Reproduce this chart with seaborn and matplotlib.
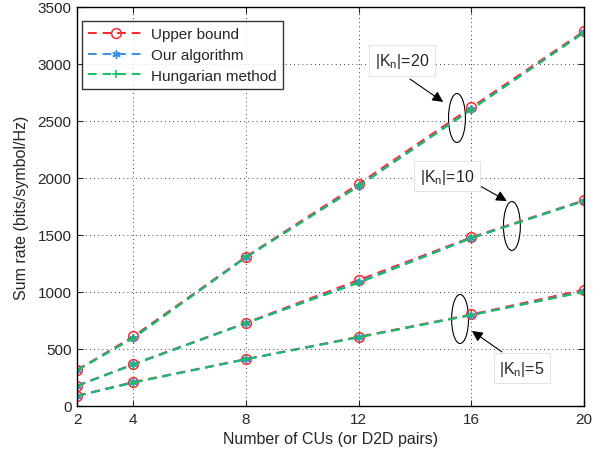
import numpy as np
import pandas as pd
import seaborn as sns
import matplotlib.pyplot as plt
from matplotlib.patches import Ellipse

# number of CUs (or D2D pairs)
n_cus = [2, 4, 8, 12, 16, 20]

# sum rate for |Kn| = 5, 10, 20
upper_5 = [90, 210, 412, 607, 803, 1020]
ours_5 = [88, 206, 410, 603, 798, 1005]
hung_5 = [87, 205, 409, 602, 797, 1000]

upper_10 = [178, 368, 730, 1105, 1480, 1805]
ours_10 = [176, 364, 726, 1088, 1474, 1800]
hung_10 = [175, 363, 725, 1080, 1472, 1798]

upper_20 = [316, 610, 1310, 1948, 2620, 3287]
ours_20 = [313, 598, 1305, 1930, 2602, 3277]
hung_20 = [312, 596, 1303, 1927, 2600, 3275]

sns.set_style("white")
plt.rcParams['font.family'] = ['Liberation Sans', 'DejaVu Sans']
plt.rcParams['mathtext.fontset'] = 'custom'
plt.rcParams['mathtext.rm'] = 'Liberation Sans'
plt.rcParams['mathtext.it'] = 'Liberation Sans'

fig = plt.figure(figsize=(6.05, 4.56), dpi=100)
ax = fig.add_axes([0.1273, 0.1075, 0.838, 0.875])

# asterisk marker like matlab '*'
series = [
    ("Upper bound", "#ff2a2a", "o", [upper_5, upper_10, upper_20]),
    ("Our algorithm", "#3a8ee8", (6, 2, 0), [ours_5, ours_10, ours_20]),
    ("Hungarian method", "#12c062", "+", [hung_5, hung_10, hung_20]),
]

for name, col, mk, groups in series:
    for i, vals in enumerate(groups):
        df = pd.DataFrame({"cus": n_cus, "rate": vals})
        mfc = "none" if mk == "o" else col
        ms = 7 if mk == "o" else 6
        sns.lineplot(data=df, x="cus", y="rate", ax=ax, color=col,
                     linestyle=(0, (4.5, 3)), marker=mk, markersize=ms,
                     markerfacecolor=mfc, markeredgecolor=col,
                     markeredgewidth=1.1, linewidth=1.4,
                     label=name if i == 0 else None)

ax.set_xlim(2, 20)
ax.set_ylim(0, 3500)
ax.set_xticks(n_cus)
ax.set_yticks(np.arange(0, 3501, 500))
ax.set_xlabel("Number of CUs (or D2D pairs)", fontsize=11.5, labelpad=4)
ax.set_ylabel("Sum rate (bits/symbol/Hz)", fontsize=11.5, labelpad=6)
ax.tick_params(direction="in", length=4, width=0.8, labelsize=11,
               top=True, right=True, bottom=True, left=True, pad=4)
ax.grid(True, color="black", linestyle=(0, (1, 4)), linewidth=0.6)
for s in ax.spines.values():
    s.set_linewidth(1.0)
    s.set_color("black")

leg = ax.legend(loc="upper left", bbox_to_anchor=(0.01, 0.965),
                borderaxespad=0, fontsize=11, frameon=True, fancybox=False,
                edgecolor="black", handlelength=3.6, labelspacing=0.45,
                borderpad=0.4, handletextpad=0.5)
leg.get_frame().set_linewidth(1.0)

bbox = dict(boxstyle="square,pad=0.35", fc="white", ec="#e4e4e4", lw=0.8)
arrow = dict(arrowstyle="-|>", color="black", lw=0.8, mutation_scale=16,
             shrinkA=0, shrinkB=0)

# ellipses around each group
for cx, cy in [(15.49, 2526), (17.44, 1579), (15.6, 763)]:
    ax.add_patch(Ellipse((cx, cy), 0.6, 430, fill=False, ec="black", lw=0.8))

labels = [r"|K$_\mathregular{n}$|=20", r"|K$_\mathregular{n}$|=10",
          r"|K$_\mathregular{n}$|=5"]
text_pos = [(13.54, 3030), (15.13, 2015), (17.8, 330)]
arrow_from = [(13.82, 2868), (16.31, 1930), (17.09, 474)]
arrow_to = [(15.0, 2667), (17.26, 1798), (16.02, 658)]

for lab, tp, a0, a1 in zip(labels, text_pos, arrow_from, arrow_to):
    ax.annotate("", xy=a1, xytext=a0, arrowprops=arrow)
    ax.text(tp[0], tp[1], lab, ha="center", va="center", fontsize=11.5,
            bbox=bbox)

plt.savefig("out.png", dpi=100)
